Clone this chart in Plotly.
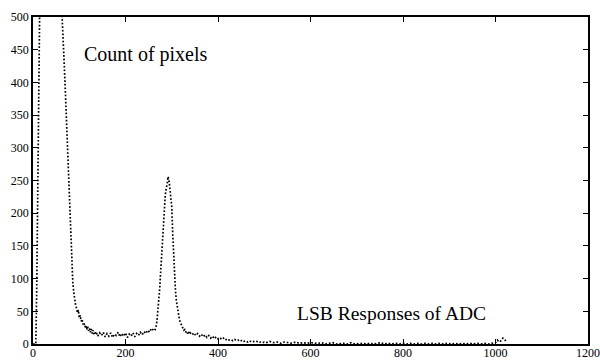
import plotly.graph_objects as go

# ADC code (LSB) sample positions
lsb_codes = (
    list(range(0, 131, 2))        # dark-level spike and fall-off
    + list(range(132, 261, 4))    # flat floor
    + list(range(262, 341, 2))    # signal peak
    + list(range(344, 501, 4))    # tail
    + list(range(504, 1001, 8))   # near-empty range
    + [1004, 1008, 1012, 1016, 1020, 1024]
)

# Pixel counts per ADC code
counts_spike = [
    0, 0, 0, 0, 80, 200, 330, 460, 600, 750, 900, 1050, 1200, 1300, 1350, 1380,
    1370, 1340, 1290, 1230, 1160, 1090, 1020, 950, 880, 810, 750, 690, 640, 590,
    550, 515, 490, 455, 420, 385, 345, 310, 280, 255, 215, 160, 110, 95, 80, 68,
    60, 55, 48, 52, 40, 44, 35, 38, 30, 33, 26, 29, 22, 27, 20, 24, 18, 23, 16, 21,
]
counts_floor = [
    14, 19, 12, 17, 13, 18, 11, 16, 12, 17, 10, 15, 13, 18, 11, 16, 12, 17, 10,
    15, 12, 17, 11, 16, 13, 18, 14, 19, 16, 21, 18, 24, 22,
]
counts_peak = [
    20, 22, 26, 35, 50, 65, 85, 110, 135, 155, 185, 210, 228, 238, 244, 256, 250,
    238, 228, 210, 170, 130, 100, 82, 66, 55, 46, 40, 34, 30, 27, 25, 21, 22, 18,
    20, 16, 19, 15, 17,
]
counts_tail = [
    14, 17, 13, 16, 12, 15, 11, 14, 10, 13, 9, 12, 8, 11, 8, 10, 7, 9, 6, 8, 6, 7,
    5, 7, 5, 6, 4, 6, 4, 5, 3, 5, 3, 4, 3, 4, 2, 3, 2, 3,
]
counts_high = [
    2, 4, 2, 3, 1, 3, 2, 1, 3, 1, 2, 1, 2, 1, 1, 2, 0, 1, 2, 0, 1, 1, 0, 2, 0, 1,
    1, 0, 1, 0, 1, 2, 0, 1, 0, 1, 0, 1, 0, 1, 0, 1, 0, 1, 0, 1, 0, 1, 0, 1, 0, 1,
    0, 1, 0, 1, 0, 1, 0, 1, 0, 1, 2,
]
counts_end = [6, 3, 5, 9, 7, 2]

pixel_counts = counts_spike + counts_floor + counts_peak + counts_tail + counts_high + counts_end

x_ticks = [0, 200, 400, 600, 800, 1000, 1200]
y_ticks = [0, 50, 100, 150, 200, 250, 300, 350, 400, 450, 500]

serif = "Liberation Serif"

fig = go.Figure()
fig.add_trace(go.Scatter(
    x=lsb_codes,
    y=pixel_counts,
    mode="lines",
    line=dict(color="black", width=1.7, dash="1.7px,1.9px"),
    showlegend=False,
    hoverinfo="skip",
))

axis_common = dict(
    showgrid=False,
    zeroline=False,
    showline=True,
    linecolor="black",
    linewidth=1.8,
    mirror="ticks",
    ticks="inside",
    ticklen=5,
    tickwidth=1,
    tickcolor="black",
    automargin=False,
    ticklabeloverflow="allow",
    tickfont=dict(family=serif, size=12, color="black"),
)

fig.update_xaxes(range=[0, 1200], tickvals=x_ticks, ticktext=[str(v) for v in x_ticks],
                 ticklabelstandoff=-3, **axis_common)
fig.update_yaxes(range=[0, 500], tickvals=y_ticks, ticktext=[str(v) for v in y_ticks], **axis_common)

fig.add_annotation(
    x=107, y=443, xref="x", yref="y",
    text="Count of pixels", showarrow=False,
    xanchor="left", yanchor="middle",
    font=dict(family=serif, size=20, color="black"),
)
fig.add_annotation(
    x=567, y=47, xref="x", yref="y",
    text="LSB Responses of ADC", showarrow=False,
    xanchor="left", yanchor="middle",
    font=dict(family=serif, size=19.5, color="black"),
)

fig.update_layout(
    width=600,
    height=361,
    margin=dict(l=33, r=12, t=17, b=17),
    paper_bgcolor="white",
    plot_bgcolor="white",
    font=dict(family=serif),
)

fig.write_html("out.html")
